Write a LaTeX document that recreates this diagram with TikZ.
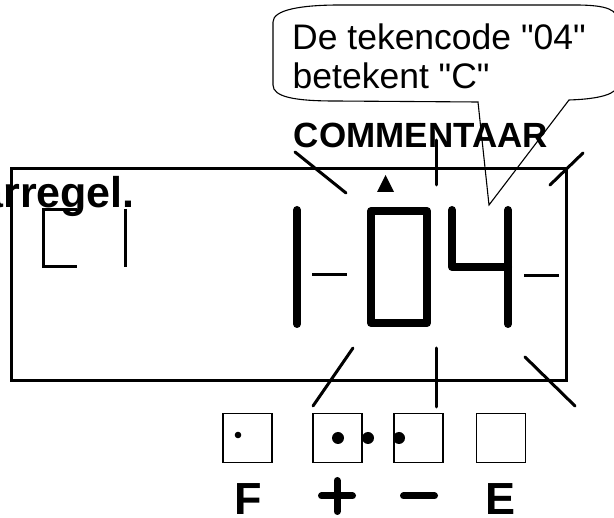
\documentclass[tikz,border=0pt]{standalone}
\usepackage{fontspec}
\setmainfont{Liberation Sans}
\newfontfamily\plainfont{Liberation Sans}
\begin{document}
\begin{tikzpicture}[x=1pt,y=-1pt,
  frame/.style={line width=3pt},
  ray/.style={line width=3pt,line cap=round},
  seg/.style={line width=8pt,line cap=round,line join=round},
  thinseg/.style={line width=3pt},
  key/.style={draw,line width=1.2pt,minimum size=49pt,inner sep=0pt},
  bubble/.style={line width=1.1pt},
  sign/.style={line width=7pt,line cap=round},
  lbl/.style={inner sep=0pt,font=\bfseries\fontsize{45}{50}\selectfont},
  calltext/.style={anchor=base west,inner sep=0pt,font=\plainfont\fontsize{35.5}{40}\selectfont}
]
\useasboundingbox (0,0) rectangle (614,518);

% callout bubble
\draw[bubble] (340,5) -- (575,5)
  .. controls (608,5) and (618,10) .. (618,22)
  -- (618,84)
  .. controls (618,94) and (600,99) .. (569,100)
  -- (489,205) -- (478,102) -- (335,101)
  .. controls (295,101) and (273,97) .. (273,85)
  -- (273,22)
  .. controls (273,10) and (300,5) .. (340,5) -- cycle;
\node[calltext] (t1) at (292,50) {De tekencode "04"};
\node[calltext] (t2) at (292.5,89) {betekent "C"};

% title
\node[anchor=base,inner sep=0pt,font=\bfseries\fontsize{35}{40}\selectfont] (title) at (421,148) {COMMENTAAR};

% display frame
\draw[frame] (11,169) rectangle (566,381);

% clipped left text
\node[anchor=base east,inner sep=0pt,font=\bfseries\fontsize{43}{46}\selectfont] (left) at (135,208) {arregel.};

% small left segments
\draw[thinseg] (77,210) -- (43,210) -- (43,267) -- (77,267);
\draw[thinseg] (125,209) -- (125,267);

% triangle marker
\fill (377,192) -- (394,192) -- (385.5,175) -- cycle;

% digits
\draw[seg] (297,210) -- (297,324);
\draw[seg] (371,211) rectangle (427,323);
\draw[seg] (452,210) -- (452,267) -- (508,267);
\draw[seg] (508,210) -- (508,324);

% dashes
\draw[thinseg] (312,275) -- (347,275);
\draw[thinseg] (524,276) -- (559,276);

% blinking rays
\draw[ray] (295,152) -- (346,193);
\draw[ray] (436,140) -- (436,185);
\draw[ray] (583,153) -- (550,185);
\draw[ray] (353,348) -- (313,406);
\draw[ray] (436,348) -- (436,407);
\draw[ray] (525,357) -- (575,406);

% keys
\node[key] (kF) at (247.5,438) {};
\node[key] (kP) at (337.5,438) {};
\node[key] (kM) at (418.5,438) {};
\node[key] (kE) at (501,438) {};
\fill (238,435) circle (3.3);
\fill (338,438) circle (6);
\fill (368,438) circle (6);
\fill (399,438) circle (6);

% key labels
\node[lbl,anchor=base] (lF) at (248,515) {F};
\node[lbl,anchor=base] (lE) at (501,515) {E};
\draw[sign] (321.5,496) -- (352.5,496);
\draw[sign] (337,480.5) -- (337,511.5);
\draw[sign] (403.5,496) -- (434.5,496);
\end{tikzpicture}
\end{document}
